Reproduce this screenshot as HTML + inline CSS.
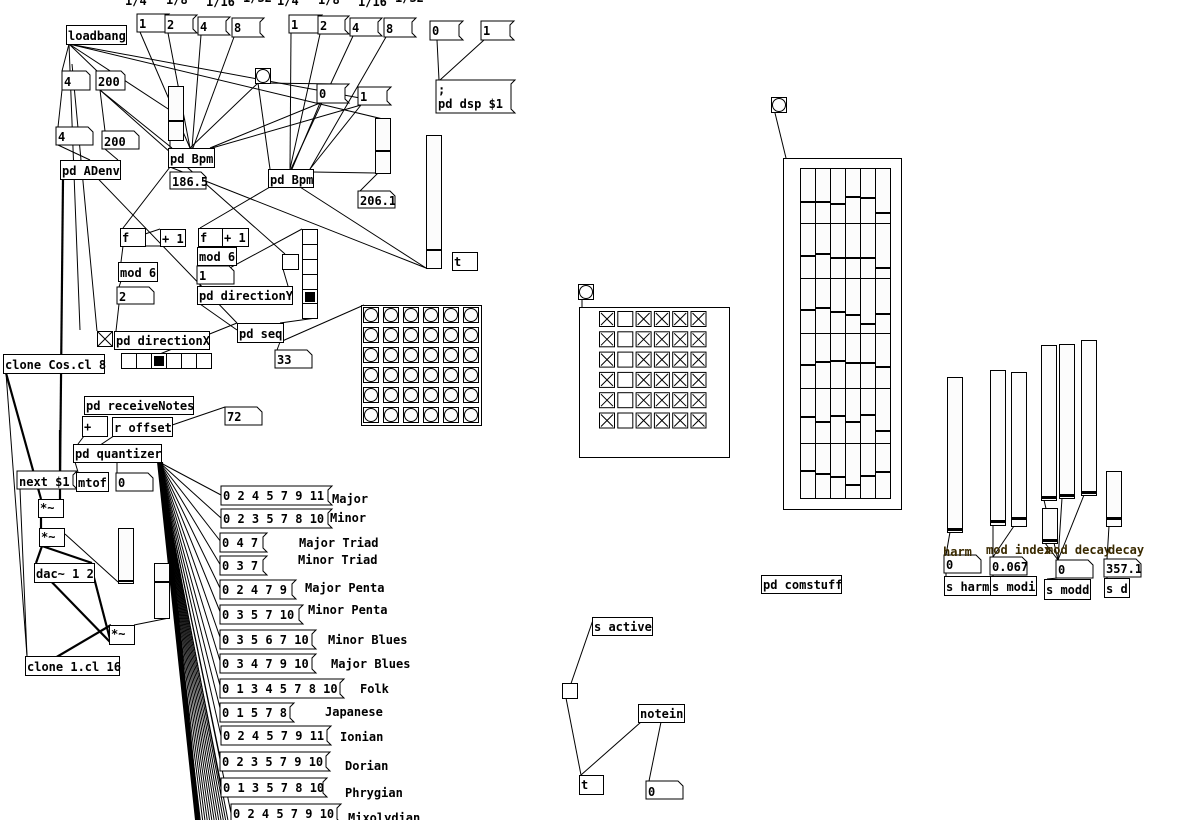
<!DOCTYPE html>
<html><head><meta charset="utf-8"><style>
html,body{margin:0;padding:0;background:#fff;}
svg{display:block;}
text{font-family:"DejaVu Sans Mono","Liberation Mono",monospace;font-weight:bold;font-size:12px;fill:#000;}
.b{fill:#fff;stroke:#000;stroke-width:1;}
.s{fill:#fcfcfc;stroke:#000;stroke-width:1;}
.l{stroke:#000;stroke-width:1;fill:none;}
.t{stroke:#000;stroke-width:2.2;fill:none;}
.lab{fill:#3a2a00;}
</style></head><body>
<svg id="g" width="1179" height="820" viewBox="0 0 1179 820" xmlns="http://www.w3.org/2000/svg">
<g id="lines">
<line class="l" x1="69" y1="44" x2="62" y2="71"/><line class="l" x1="69" y1="44" x2="97" y2="71"/>
<line class="l" x1="69" y1="44" x2="80" y2="330"/><line class="l" x1="69" y1="44" x2="185" y2="120"/>
<line class="l" x1="69" y1="44" x2="360" y2="98"/><line class="l" x1="69" y1="44" x2="387" y2="120"/>
<line class="l" x1="62" y1="90" x2="58" y2="127"/><line class="l" x1="100" y1="90" x2="105" y2="131"/>
<line class="l" x1="58" y1="145" x2="90" y2="160"/><line class="l" x1="105" y1="149" x2="118" y2="160"/>
<line class="l" x1="100" y1="90" x2="172" y2="148"/>
<line class="l" x1="72" y1="64" x2="97" y2="331"/>
<line class="t" x1="63" y1="179" x2="60" y2="480"/>
<line class="l" x1="140" y1="32" x2="190" y2="148"/><line class="l" x1="168" y1="33" x2="190" y2="148"/>
<line class="l" x1="201" y1="35" x2="192" y2="148"/><line class="l" x1="234" y1="37" x2="193" y2="148"/>
<line class="l" x1="291" y1="33" x2="290" y2="169"/><line class="l" x1="320" y1="34" x2="290" y2="169"/>
<line class="l" x1="353" y1="36" x2="291" y2="169"/><line class="l" x1="386" y1="37" x2="310" y2="169"/>
<line class="l" x1="258" y1="83" x2="190" y2="148"/><line class="l" x1="258" y1="83" x2="270" y2="169"/>
<line class="l" x1="260" y1="83" x2="340" y2="84"/>
<line class="l" x1="320" y1="103" x2="210" y2="148"/><line class="l" x1="320" y1="103" x2="292" y2="169"/>
<line class="l" x1="361" y1="105" x2="212" y2="148"/><line class="l" x1="361" y1="105" x2="310" y2="169"/>
<line class="l" x1="170" y1="140" x2="170" y2="148"/>
<line class="l" x1="313" y1="172" x2="375" y2="173"/><line class="l" x1="378" y1="173" x2="360" y2="191"/>
<line class="l" x1="170" y1="167" x2="123" y2="228"/><line class="l" x1="170" y1="167" x2="426" y2="268"/>
<line class="l" x1="300" y1="187" x2="426" y2="268"/><line class="l" x1="270" y1="187" x2="200" y2="228"/>
<line class="l" x1="100" y1="90" x2="285" y2="254"/><line class="l" x1="283" y1="269" x2="288" y2="286"/>
<line class="l" x1="123" y1="246" x2="121" y2="262"/><line class="l" x1="145" y1="234" x2="160" y2="229"/>
<line class="l" x1="162" y1="246" x2="123" y2="246"/><line class="l" x1="121" y1="281" x2="119" y2="287"/>
<line class="l" x1="119" y1="304" x2="116" y2="331"/>
<line class="l" x1="200" y1="246" x2="200" y2="247"/><line class="l" x1="200" y1="265" x2="200" y2="266"/>
<line class="l" x1="224" y1="234" x2="201" y2="246"/><line class="l" x1="200" y1="284" x2="200" y2="286"/>
<line class="l" x1="200" y1="284" x2="302" y2="229"/>
<line class="l" x1="80" y1="160" x2="237" y2="323"/><line class="l" x1="200" y1="304" x2="237" y2="330"/>
<line class="l" x1="237" y1="323" x2="125" y2="368"/>
<line class="l" x1="280" y1="323" x2="316" y2="318"/><line class="l" x1="280" y1="342" x2="364" y2="305"/>
<line class="l" x1="280" y1="342" x2="277" y2="350"/>
<line class="t" x1="6" y1="373" x2="41" y2="499"/>
<line class="l" x1="6" y1="373" x2="27" y2="656"/>
<line class="t" x1="41" y1="517" x2="41" y2="528"/><line class="t" x1="60" y1="430" x2="60" y2="499"/>
<line class="t" x1="42" y1="546" x2="36" y2="563"/><line class="t" x1="42" y1="546" x2="92" y2="563"/>
<line class="t" x1="92" y1="570" x2="111" y2="643"/><line class="t" x1="42" y1="572" x2="111" y2="643"/>
<line class="t" x1="26" y1="675" x2="111" y2="625"/><line class="l" x1="65" y1="534" x2="118" y2="582"/>
<line class="l" x1="134" y1="625" x2="169" y2="618"/>
<line class="l" x1="75" y1="462" x2="78" y2="472"/><line class="l" x1="117" y1="462" x2="117" y2="473"/>
<line class="l" x1="75" y1="462" x2="130" y2="425"/><line class="l" x1="140" y1="436" x2="225" y2="407"/>
<line class="l" x1="84" y1="436" x2="78" y2="444"/><line class="l" x1="40" y1="475" x2="73" y2="488"/>
<line class="l" x1="20" y1="489" x2="27" y2="656"/>
<line class="l" x1="437" y1="40" x2="439" y2="80"/><line class="l" x1="484" y1="40" x2="440" y2="80"/>
<line class="l" x1="775" y1="113" x2="786" y2="158"/><line class="l" x1="582" y1="300" x2="582" y2="307"/>
<line class="l" x1="950" y1="532" x2="946" y2="555"/><line class="l" x1="993" y1="525" x2="993" y2="557"/>
<line class="l" x1="1014" y1="526" x2="993" y2="557"/><line class="l" x1="1044" y1="500" x2="1058" y2="560"/>
<line class="l" x1="1062" y1="498" x2="1058" y2="560"/><line class="l" x1="1084" y1="495" x2="1058" y2="560"/>
<line class="l" x1="1045" y1="543" x2="1058" y2="560"/><line class="l" x1="1109" y1="526" x2="1107" y2="559"/>
<line class="l" x1="946" y1="573" x2="946" y2="576"/><line class="l" x1="993" y1="575" x2="993" y2="576"/>
<line class="l" x1="1058" y1="578" x2="1047" y2="579"/><line class="l" x1="1107" y1="577" x2="1107" y2="578"/>
<line class="l" x1="566" y1="698" x2="594" y2="617"/><line class="l" x1="566" y1="698" x2="581" y2="775"/>
<line class="l" x1="641" y1="722" x2="581" y2="775"/><line class="l" x1="661" y1="722" x2="649" y2="781"/>
</g>
<g id="fan"></g>

<text x="125" y="5">1/4</text><text x="166" y="4">1/8</text><text x="206" y="6">1/16</text><text x="243" y="2">1/32</text>
<text x="277" y="5">1/4</text><text x="318" y="4">1/8</text><text x="358" y="6">1/16</text><text x="395" y="2">1/32</text>

<path class="b" d="M137 14H169L165 18V28L169 32H137Z"/><text x="139" y="28">1</text>
<path class="b" d="M165 15H197L193 19V29L197 33H165Z"/><text x="167" y="29">2</text>
<path class="b" d="M198 17H230L226 21V31L230 35H198Z"/><text x="200" y="31">4</text>
<path class="b" d="M232 18H264L260 22V33L264 37H232Z"/><text x="234" y="32">8</text>
<path class="b" d="M289 15H322L318 19V29L322 33H289Z"/><text x="291" y="29">1</text>
<path class="b" d="M318 16H349L345 20V30L349 34H318Z"/><text x="320" y="30">2</text>
<path class="b" d="M350 18H382L378 22V32L382 36H350Z"/><text x="352" y="32">4</text>
<path class="b" d="M384 18H416L412 22V33L416 37H384Z"/><text x="386" y="33">8</text>
<path class="b" d="M430 21H463L459 25V36L463 40H430Z"/><text x="432" y="35">0</text>
<path class="b" d="M481 21H514L510 25V36L514 40H481Z"/><text x="483" y="35">1</text>
<path class="b" d="M436 80H515L511 84V109L515 113H436Z"/><text x="438" y="94">;</text><text x="438" y="108">pd dsp $1</text>
<path class="b" d="M317 84H349L345 88V99L349 103H317Z"/><text x="319" y="98">0</text>
<path class="b" d="M358 87H391L387 91V101L391 105H358Z"/><text x="360" y="101">1</text>
<path class="b" d="M17 471H77L73 475V485L77 489H17Z"/><text x="19" y="486">next $1</text>

<path class="b" d="M62 71H86L90 75V90H62Z"/><text x="64" y="86">4</text>
<path class="b" d="M96 71H121L125 75V90H96Z"/><text x="98" y="86">200</text>
<path class="b" d="M56 127H88L93 132V145H56Z"/><text x="58" y="141">4</text>
<path class="b" d="M102 131H134L139 136V149H102Z"/><text x="104" y="146">200</text>
<path class="b" d="M170 172H201L206 177V189H170Z"/><text x="172" y="186">186.5</text>
<path class="b" d="M358 191H390L395 196V208H358Z"/><text x="360" y="205">206.1</text>
<path class="b" d="M117 287H149L154 292V304H117Z"/><text x="119" y="301">2</text>
<path class="b" d="M197 266H229L234 271V284H197Z"/><text x="199" y="280">1</text>
<path class="b" d="M275 350H307L312 355V368H275Z"/><text x="277" y="364">33</text>
<path class="b" d="M225 407H257L262 412V425H225Z"/><text x="227" y="421">72</text>
<path class="b" d="M116 473H148L153 478V491H116Z"/><text x="118" y="487">0</text>
<path class="b" d="M944 555H976L981 560V573H944Z"/><text x="946" y="569">0</text>
<path class="b" d="M990 557H1022L1027 562V575H990Z"/><text x="992" y="571">0.067</text>
<path class="b" d="M1056 560H1088L1093 565V578H1056Z"/><text x="1058" y="574">0</text>
<path class="b" d="M1104 559H1136L1141 564V577H1104Z"/><text x="1106" y="573">357.1</text>
<path class="b" d="M646 781H678L683 786V799H646Z"/><text x="648" y="796">0</text>

<rect class="b" x="66.5" y="25.5" width="60" height="19"/><text x="68" y="40">loadbang</text>
<rect class="b" x="60.5" y="160.5" width="60" height="19"/><text x="62" y="175">pd ADenv</text>
<rect class="b" x="168.5" y="148.5" width="46" height="19"/><text x="170" y="163">pd Bpm</text>
<rect class="b" x="268.5" y="169.5" width="45" height="18"/><text x="270" y="184">pd Bpm</text>
<rect class="b" x="452.5" y="252.5" width="25" height="18"/><text x="454" y="266">t</text>
<rect class="b" x="120.5" y="228.5" width="25" height="18"/><text x="122" y="242">f</text>
<rect class="b" x="160.5" y="229.5" width="25" height="17"/><text x="162" y="243">+ 1</text>
<rect class="b" x="118.5" y="262.5" width="39" height="19"/><text x="120" y="277">mod 6</text>
<rect class="b" x="198.5" y="228.5" width="24" height="18"/><text x="200" y="242">f</text>
<rect class="b" x="222.5" y="228.5" width="26" height="18"/><text x="224" y="242">+ 1</text>
<rect class="b" x="197.5" y="247.5" width="39" height="18"/><text x="199" y="261">mod 6</text>
<rect class="b" x="197.5" y="286.5" width="95" height="18"/><text x="199" y="300">pd directionY</text>
<rect class="b" x="282.5" y="254.5" width="16" height="15"/>
<rect class="b" x="114.5" y="331.5" width="95" height="18"/><text x="116" y="345">pd directionX</text>
<rect class="b" x="237.5" y="323.5" width="46" height="19"/><text x="239" y="338">pd seq</text>
<rect class="b" x="3.5" y="354.5" width="101" height="19"/><text x="5" y="369">clone Cos.cl 8</text>
<rect class="b" x="84.5" y="396.5" width="109" height="18"/><text x="86" y="410">pd receiveNotes</text>
<rect class="b" x="82.5" y="416.5" width="25" height="20"/><text x="84" y="431">+</text>
<rect class="b" x="112.5" y="417.5" width="60" height="19"/><text x="114" y="432">r offset</text>
<rect class="b" x="73.5" y="444.5" width="88" height="18"/><text x="75" y="458">pd quantizer</text>
<rect class="b" x="76.5" y="472.5" width="32" height="19"/><text x="78" y="487">mtof</text>
<rect class="b" x="38.5" y="499.5" width="25" height="18"/><text x="40" y="512">*~</text>
<rect class="b" x="39.5" y="528.5" width="25" height="18"/><text x="41" y="541">*~</text>
<rect class="b" x="34.5" y="563.5" width="60" height="19"/><text x="36" y="578">dac~ 1 2</text>
<rect class="b" x="109.5" y="625.5" width="25" height="19"/><text x="111" y="638">*~</text>
<rect class="b" x="25.5" y="656.5" width="94" height="19"/><text x="27" y="671">clone 1.cl 16</text>
<rect class="b" x="761.5" y="575.5" width="80" height="18"/><text x="763" y="589">pd comstuff</text>
<rect class="b" x="944.5" y="576.5" width="46" height="19"/><text x="946" y="591">s harm</text>
<rect class="b" x="990.5" y="576.5" width="46" height="19"/><text x="992" y="591">s modi</text>
<rect class="b" x="1044.5" y="579.5" width="46" height="20"/><text x="1046" y="594">s modd</text>
<rect class="b" x="1104.5" y="578.5" width="25" height="19"/><text x="1106" y="593">s d</text>
<rect class="b" x="592.5" y="617.5" width="60" height="18"/><text x="594" y="631">s active</text>
<rect class="b" x="638.5" y="704.5" width="46" height="18"/><text x="640" y="718">notein</text>
<rect class="b" x="579.5" y="775.5" width="24" height="19"/><text x="581" y="789">t</text>

<rect class="s" x="168.5" y="86.5" width="15" height="54"/><rect x="169" y="120" width="14" height="2"/>
<rect class="s" x="375.5" y="118.5" width="15" height="55"/><rect x="376" y="150" width="14" height="2"/>
<rect class="s" x="426.5" y="135.5" width="15" height="133"/><rect x="427" y="249" width="14" height="2"/>
<rect class="s" x="118.5" y="528.5" width="15" height="55"/><rect x="119" y="580" width="14" height="2"/>
<rect class="s" x="154.5" y="563.5" width="15" height="55"/><rect x="155" y="581" width="14" height="2"/>
<rect class="s" x="947.5" y="377.5" width="15" height="155"/><rect x="948" y="528" width="14" height="3"/>
<rect class="s" x="990.5" y="370.5" width="15" height="155"/><rect x="991" y="520" width="14" height="3"/>
<rect class="s" x="1011.5" y="372.5" width="15" height="154"/><rect x="1012" y="517" width="14" height="3"/>
<rect class="s" x="1041.5" y="345.5" width="15" height="155"/><rect x="1042" y="496" width="14" height="3"/>
<rect class="s" x="1059.5" y="344.5" width="15" height="154"/><rect x="1060" y="494" width="14" height="3"/>
<rect class="s" x="1081.5" y="340.5" width="15" height="155"/><rect x="1082" y="491" width="14" height="3"/>
<rect class="s" x="1106.5" y="471.5" width="15" height="55"/><rect x="1107" y="517" width="14" height="3"/>
<rect class="s" x="1042.5" y="508.5" width="15" height="35"/><rect x="1043" y="539" width="14" height="3"/>

<rect class="b" x="302.5" y="229.5" width="15" height="89"/>
<path class="l" d="M302 244.5H318M302 259.5H318M302 274.5H318M302 289.5H318M302 303.5H318"/>
<rect x="305" y="292" width="10" height="10"/>
<rect class="b" x="121.5" y="353.5" width="90" height="15"/>
<path class="l" d="M136.5 353V369M151.5 353V369M166.5 353V369M181.5 353V369M196.5 353V369"/>
<rect x="154" y="356" width="10" height="10"/>
<rect class="b" x="97.5" y="331.5" width="15" height="15"/><path class="l" d="M98 332L112 346M112 332L98 346"/>
<rect class="b" x="255.5" y="68.5" width="15" height="15"/><circle class="b" cx="263" cy="76" r="6.5"/>
<rect class="b" x="578.5" y="284.5" width="15" height="15"/><circle class="b" cx="586" cy="292" r="6.5"/>
<rect class="b" x="771.5" y="97.5" width="15" height="15"/><circle class="b" cx="779" cy="105" r="6.5"/>
<rect class="b" x="562.5" y="683.5" width="15" height="15"/>
<rect class="b" x="361.5" y="305.5" width="120" height="120"/>
<rect class="b" x="579.5" y="307.5" width="150" height="150"/>
<rect class="b" x="783.5" y="158.5" width="118" height="351"/>
<g id="grids"></g>

<path class="b" d="M221 486H332L328 490V501L332 505H221Z"/><text x="223" y="500">0 2 4 5 7 9 11</text><text x="332" y="503">Major</text>
<path class="b" d="M221 509H332L328 513V524L332 528H221Z"/><text x="223" y="523">0 2 3 5 7 8 10</text><text x="330" y="522">Minor</text>
<path class="b" d="M220 533H267L263 537V548L267 552H220Z"/><text x="222" y="547">0 4 7</text><text x="299" y="547">Major Triad</text>
<path class="b" d="M220 556H267L263 560V571L267 575H220Z"/><text x="222" y="570">0 3 7</text><text x="298" y="564">Minor Triad</text>
<path class="b" d="M220 580H296L292 584V595L296 599H220Z"/><text x="222" y="594">0 2 4 7 9</text><text x="305" y="592">Major Penta</text>
<path class="b" d="M220 605H303L299 609V620L303 624H220Z"/><text x="222" y="619">0 3 5 7 10</text><text x="308" y="614">Minor Penta</text>
<path class="b" d="M220 630H316L312 634V645L316 649H220Z"/><text x="222" y="644">0 3 5 6 7 10</text><text x="328" y="644">Minor Blues</text>
<path class="b" d="M220 654H316L312 658V669L316 673H220Z"/><text x="222" y="668">0 3 4 7 9 10</text><text x="331" y="668">Major Blues</text>
<path class="b" d="M220 679H344L340 683V694L344 698H220Z"/><text x="222" y="693">0 1 3 4 5 7 8 10</text><text x="360" y="693">Folk</text>
<path class="b" d="M220 703H294L290 707V718L294 722H220Z"/><text x="222" y="717">0 1 5 7 8</text><text x="325" y="716">Japanese</text>
<path class="b" d="M221 726H331L327 730V741L331 745H221Z"/><text x="223" y="740">0 2 4 5 7 9 11</text><text x="340" y="741">Ionian</text>
<path class="b" d="M220 752H330L326 756V767L330 771H220Z"/><text x="222" y="766">0 2 3 5 7 9 10</text><text x="345" y="770">Dorian</text>
<path class="b" d="M221 778H327L323 782V793L327 797H221Z"/><text x="223" y="792">0 1 3 5 7 8 10</text><text x="345" y="797">Phrygian</text>
<path class="b" d="M231 804H341L337 808V819L341 823H231Z"/><text x="233" y="818">0 2 4 5 7 9 10</text><text x="348" y="822">Mixolydian</text>

<text class="lab" x="943" y="556">harm</text><text class="lab" x="986" y="554">mod index</text>
<text class="lab" x="1046" y="554">mod decay</text><text class="lab" x="1108" y="554">decay</text>
</svg>
<script>
var NS="http://www.w3.org/2000/svg";
function el(p,t,a){var e=document.createElementNS(NS,t);for(var k in a)e.setAttribute(k,a[k]);p.appendChild(e);return e;}
var fan=document.getElementById("fan"),g=document.getElementById("grids");
var ys=[495,518,542,566,590,614,640,664,689,712,736,762,788,813];
ys.forEach(function(y,i){el(fan,"line",{class:"l",x1:159,y1:462,x2:i==13?231:221,y2:y});});
for(var i=0;i<14;i++){el(fan,"line",{class:"l",x1:158,y1:462,x2:198+i*2.3,y2:820});}
el(fan,"path",{d:"M157 462L163 462L200 820L195 820Z",fill:"#000"});
for(var r=0;r<6;r++)for(var c=0;c<6;c++){
 var x=363+c*20,y=307+r*20;
 el(g,"rect",{class:"b",x:x+.5,y:y+.5,width:15,height:15});
 var cir=el(g,"circle",{class:"b",cx:x+8,cy:y+8,r:6.5});
 if(r==5&&c==2)cir.setAttribute("fill","#000");
 var tx=599+c*18.3,ty=311+r*20.3;
 el(g,"rect",{class:"b",x:tx+.5,y:ty+.5,width:15,height:15});
 if(c!=1)el(g,"path",{class:"l",d:"M"+(tx+2)+" "+(ty+2)+"L"+(tx+14)+" "+(ty+14)+"M"+(tx+14)+" "+(ty+2)+"L"+(tx+2)+" "+(ty+14)});
}
var kn=[[33,33,35,28,29,44],[87,85,89,89,89,99],[141,139,143,146,155,145],[196,193,192,194,194,198],[248,253,247,253,246,262],[302,305,308,316,307,303]];
for(var r=0;r<6;r++)for(var c=0;c<6;c++){
 var x=800+c*15,y=168+r*55;
 el(g,"rect",{class:"s",x:x+.5,y:y+.5,width:15,height:55});
 el(g,"rect",{x:x+1,y:168+kn[r][c],width:14,height:2});
}
</script>
</body></html>
